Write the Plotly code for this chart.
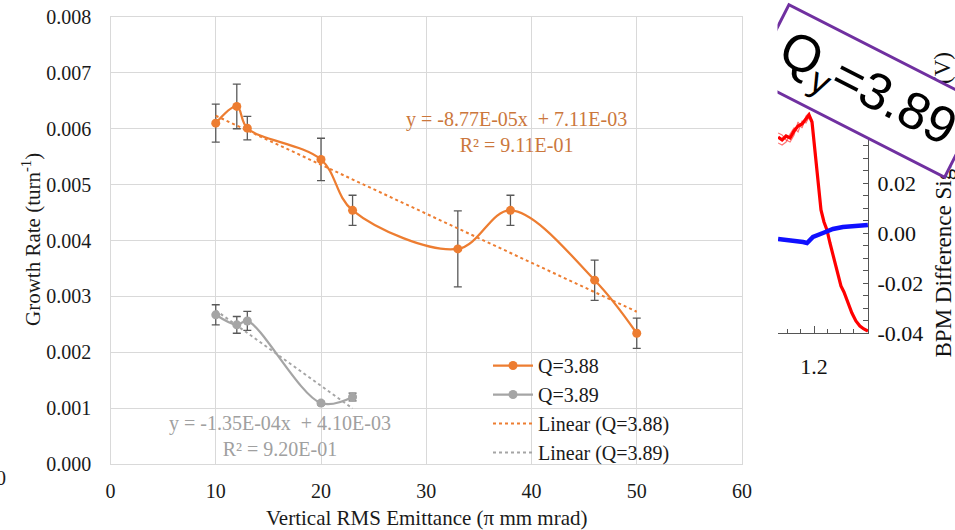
import plotly.graph_objects as go

# Growth rate vs. vertical RMS emittance, two tunes
emit_388 = [10, 12, 13, 20, 23, 33, 38, 46, 50]
rate_388 = [0.00610, 0.00640, 0.00601, 0.00545, 0.00454, 0.00385, 0.00454, 0.00329, 0.00234]
err_388 = [0.00034, 0.00040, 0.00021, 0.00038, 0.00027, 0.00068, 0.00027, 0.00036, 0.00027]

emit_389 = [10, 12, 13, 20, 23]
rate_389 = [0.00267, 0.00249, 0.00256, 0.00109, 0.00120]
err_389 = [0.00018, 0.00015, 0.00017, 0.00003, 0.00007]

# Linear fit coefficients (slope, intercept, R^2)
fit_388 = (-8.77e-05, 7.11e-03, 9.11e-01)
fit_389 = (-1.35e-04, 4.10e-03, 9.20e-01)

x_ticks = [0, 10, 20, 30, 40, 50, 60]
y_ticks = [0.000, 0.001, 0.002, 0.003, 0.004, 0.005, 0.006, 0.007, 0.008]

# BPM difference signal traces (side panel)
bpm_t = [1.092, 1.104, 1.116, 1.128, 1.140, 1.152, 1.164, 1.176, 1.185, 1.194, 1.203,
         1.212, 1.221, 1.230, 1.239, 1.248, 1.260, 1.272, 1.281, 1.290, 1.302, 1.314,
         1.326, 1.338, 1.350, 1.362]
bpm_red_a = [0.0384, 0.0372, 0.0388, 0.0380, 0.0408, 0.0428, 0.0436, 0.0456, 0.0472, 0.0444, 0.0332,
             0.0212, 0.0092, 0.0044, 0.0012, -0.0040, -0.0100, -0.0164, -0.0212, -0.0236, -0.0280, -0.0320,
             -0.0352, -0.0372, -0.0384, -0.0392]
bpm_red_b = [0.0360, 0.0352, 0.0364, 0.0396, 0.0420, 0.0404, 0.0448, 0.0440, 0.0464, 0.0452, 0.0340,
             0.0220, 0.0100, 0.0048, 0.0014, -0.0038, -0.0098, -0.0162, -0.0210, -0.0234, -0.0278, -0.0318,
             -0.0350, -0.0370, -0.0382, -0.0390]
bpm_red_c = [0.0400, 0.0392, 0.0372, 0.0364, 0.0392, 0.0444, 0.0420, 0.0468, 0.0480, 0.0436, 0.0324,
             0.0204, 0.0086, 0.0040, 0.0010, -0.0042, -0.0102, -0.0166, -0.0214, -0.0238, -0.0282, -0.0322,
             -0.0354, -0.0374, -0.0386, -0.0394]
bpm_blue_t = [1.092, 1.128, 1.167, 1.179, 1.197, 1.227, 1.257, 1.287, 1.329, 1.362]
bpm_blue = [-0.0024, -0.0028, -0.0036, -0.0040, -0.0016, 0.0000, 0.0016, 0.0024, 0.0028, 0.0032]

W, H = 955, 530
ORANGE = "#ED7D31"
GRAY = "#A5A5A5"
SERIF = "Liberation Serif, Times New Roman, serif"
SANS = "Liberation Sans, Arial, sans-serif"


def px(x):
    return x / W


def py(y):
    return (H - y) / H


def serif(size, color="#1a1a1a"):
    return dict(family=SERIF, size=size, color=color)


fig = go.Figure()

fig.add_trace(go.Scatter(
    x=emit_388, y=rate_388, name="Q=3.88", mode="lines+markers",
    line=dict(color=ORANGE, width=2.25, shape="spline", smoothing=1.0),
    marker=dict(color=ORANGE, size=9),
    error_y=dict(type="data", array=err_388, color="#595959", thickness=1.3, width=4),
))
fig.add_trace(go.Scatter(
    x=emit_389, y=rate_389, name="Q=3.89", mode="lines+markers",
    line=dict(color=GRAY, width=2.25, shape="spline", smoothing=1.0),
    marker=dict(color=GRAY, size=9),
    error_y=dict(type="data", array=err_389, color="#595959", thickness=1.3, width=4),
))

for xs, fit, color, label in [(emit_388, fit_388, ORANGE, "Linear (Q=3.88)"),
                              (emit_389, fit_389, GRAY, "Linear (Q=3.89)")]:
    x_end = [min(xs), max(xs)]
    fig.add_trace(go.Scatter(
        x=x_end, y=[fit[0] * v + fit[1] for v in x_end], name=label, mode="lines",
        line=dict(color=color, width=2, dash="dot"),
    ))

# side panel traces
for ys in (bpm_red_b, bpm_red_c):
    fig.add_trace(go.Scatter(x=bpm_t, y=ys, xaxis="x2", yaxis="y2", mode="lines",
                             line=dict(color="rgba(255,0,0,0.55)", width=1.2), showlegend=False))
fig.add_trace(go.Scatter(x=bpm_t, y=bpm_red_a, xaxis="x2", yaxis="y2", mode="lines",
                         line=dict(color="#FF0000", width=3.2), showlegend=False))
fig.add_trace(go.Scatter(x=bpm_blue_t, y=bpm_blue, xaxis="x2", yaxis="y2", mode="lines",
                         line=dict(color="#1010FF", width=4.5), showlegend=False))

grid = "#D9D9D9"
fig.update_layout(
    width=W, height=H, margin=dict(l=0, r=0, t=0, b=0, pad=0, autoexpand=False),
    paper_bgcolor="white", plot_bgcolor="white",
    font=serif(20),
    xaxis=dict(domain=[px(110.5), px(742)], range=[0, 60], tickvals=x_ticks, automargin=False,
               showgrid=True, gridcolor=grid, gridwidth=1.3, zeroline=False,
               showline=True, mirror=True, linecolor=grid, linewidth=1.3,
               ticks="", ticklabelstandoff=9, tickfont=serif(20)),
    yaxis=dict(domain=[py(464), py(17)], range=[0, 0.008], tickvals=y_ticks, tickformat=".3f",
               automargin=False,
               showgrid=True, gridcolor=grid, gridwidth=1.3, zeroline=False,
               showline=True, mirror=True, linecolor=grid, linewidth=1.3,
               ticks="", ticklabelstandoff=14, tickfont=serif(20)),
    xaxis2=dict(domain=[px(778), px(868)], range=[1.0917, 1.3624], anchor="y2", automargin=False,
                tick0=1.2, dtick=0.2, tickformat=".1f", ticks="inside", ticklen=7, tickcolor="#555",
                minor=dict(dtick=0.04, tick0=1.2, ticks="inside", ticklen=4, tickcolor="#555"),
                showline=True, linecolor="#555", linewidth=1.2, showgrid=False, zeroline=False,
                ticklabelstandoff=13, tickfont=serif(22, "#111")),
    yaxis2=dict(domain=[py(333), py(83)], range=[-0.04, 0.06], anchor="x2", side="right",
                automargin=False,
                tickvals=[-0.04, -0.02, 0.0, 0.02, 0.04, 0.06],
                ticktext=["-0.04", "-0.02", "0.00", "0.02", "0.04", "0.06"],
                ticks="inside", ticklen=5, tickcolor="#555",
                minor=dict(dtick=0.005, tick0=0, ticks="inside", ticklen=5, tickcolor="#555"),
                showline=True, linecolor="#555", linewidth=1.2, showgrid=False, zeroline=False,
                ticklabelstandoff=4, tickfont=serif(22, "#111")),
    legend=dict(x=px(488), y=py(346), xanchor="left", yanchor="top",
                bgcolor="rgba(0,0,0,0)", font=serif(20),
                itemwidth=40, tracegroupgap=0),
    showlegend=True,
)

a, b, r2 = fit_388
c, d, r2b = fit_389
annotations = [
    dict(x=px(516), y=py(132), text=f"y = {a:.2E}x\u00a0 + {b:.2E}<br>R² = {r2:.2E}",
         font=serif(20, "#CB773C"), align="center"),
    dict(x=px(280), y=py(436), text=f"y = {c:.2E}x\u00a0 + {d:.2E}<br>R² = {r2b:.2E}",
         font=serif(20, "#A0A0A0"), align="center"),
    dict(x=px(31), y=py(240), text="Growth Rate (turn<sup>-1</sup>)", textangle=-90,
         font=serif(21)),
    dict(x=px(426), y=py(518), text="Vertical RMS Emittance (π mm mrad)",
         font=serif(21)),
    dict(x=px(1), y=py(478), text="0", font=serif(20)),
    dict(x=px(943), y=py(360), text="BPM Difference Signal", textangle=-90, yanchor="bottom",
         font=serif(23, "#111")),
    dict(x=px(943), y=py(68), text="(V)", textangle=-90, font=serif(23, "#111")),
    dict(x=px(867), y=py(90.5), text="Q<sub>y</sub>=3.89", textangle=27,
         font=dict(family=SANS, size=52, color="black"),
         bgcolor="white", bordercolor="#7030A0", borderwidth=3, borderpad=1,
         width=212, height=78),
    dict(x=px(760.5), y=py(60), text=" ", bgcolor="white", width=33, height=130, borderpad=0),
]
for ann in annotations:
    ann.setdefault("xref", "paper")
    ann.setdefault("yref", "paper")
    ann.setdefault("showarrow", False)
    ann.setdefault("xanchor", "center")
    ann.setdefault("yanchor", "middle")
fig.update_layout(annotations=annotations)

fig.write_html("out.html")
